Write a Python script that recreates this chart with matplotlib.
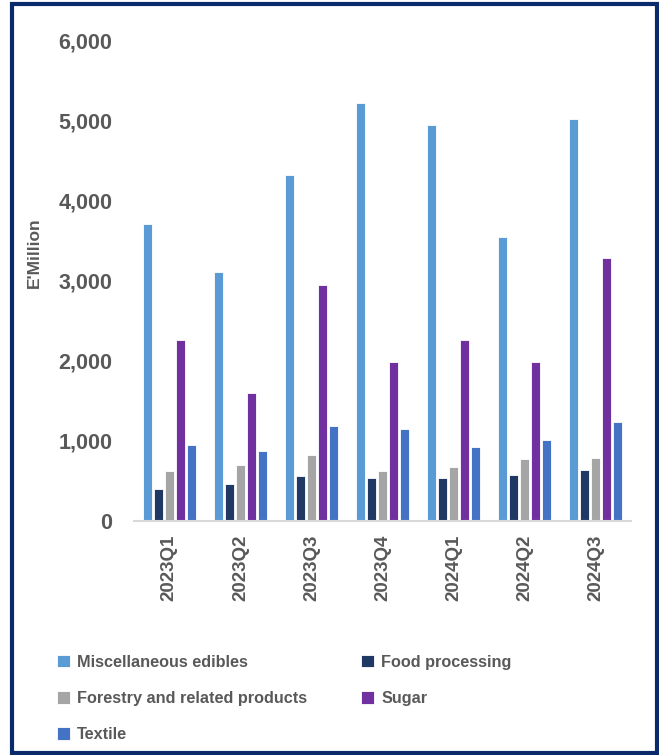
import numpy as np
from matplotlib import pyplot as plt
import matplotlib as mpl
from matplotlib.patches import Rectangle

plt.rcParams['font.family'] = ['Liberation Sans', 'DejaVu Sans']
plt.rcParams['font.weight'] = 'bold'

#trimestres
quarters = ['2023Q1', '2023Q2', '2023Q3', '2023Q4', '2024Q1', '2024Q2', '2024Q3']

#valores por sector (E'Million)
misc_edibles = [3705, 3102, 4312, 5214, 4944, 3539, 5018]
food_processing = [399, 461, 561, 540, 532, 570, 636]
forestry = [624, 695, 827, 624, 673, 777, 786]
sugar = [2262, 1601, 2940, 1979, 2258, 1987, 3280]
textile = [952, 873, 1185, 1152, 923, 1010, 1239]

series = [
    ('Miscellaneous edibles', misc_edibles, '#5B9BD5'),
    ('Food processing', food_processing, '#203864'),
    ('Forestry and related products', forestry, '#A5A5A5'),
    ('Sugar', sugar, '#7030A0'),
    ('Textile', textile, '#4472C4'),
]

gray = '#595959'
px = 1/100
fig = plt.figure(figsize=(659*px, 755*px), dpi=100)
ax = fig.add_axes([0.203, 0.310, 0.755, 0.637])

x = np.arange(len(quarters))
w = 0.127
step = 0.155
bars = {}
for i, (name, vals, col) in enumerate(series):
    bars[name] = ax.bar(x + (i - 2)*step, vals, width=w, color=col,
            edgecolor='white', linewidth=0.6, label=name)

ax.set_xlim(-0.5, len(quarters) - 0.5)
ax.set_ylim(0, 6000)
ax.set_yticks(np.arange(0, 6001, 1000))
ax.yaxis.set_major_formatter(mpl.ticker.FuncFormatter(lambda v, p: '{:,.0f}'.format(v)))
ax.set_xticks(x)
ax.set_xticklabels(quarters, rotation=90)
ax.tick_params(axis='y', length=0, pad=15.5, labelsize=15.5, labelcolor=gray)
ax.tick_params(axis='x', length=0, pad=10, labelsize=13.5, labelcolor=gray)
for s in ['top', 'right', 'left']:
    ax.spines[s].set_visible(False)
ax.spines['bottom'].set_color('#D9D9D9')
ax.spines['bottom'].set_linewidth(1.5)
ax.set_ylabel("E'Million", fontsize=12.5, color=gray, fontweight='bold')
ax.yaxis.set_label_coords(-0.184, 0.557)

order = ['Miscellaneous edibles', 'Forestry and related products', 'Textile',
         'Food processing', 'Sugar']
fig.legend([bars[n] for n in order], order, ncol=2, frameon=False,
        loc='upper left', bbox_to_anchor=(0.064, 0.152),
        fontsize=11.7, labelcolor=gray, handlelength=0.8, handleheight=0.8,
        handletextpad=0.45, columnspacing=3.3, labelspacing=1.3)

#marco
fig.patches.append(Rectangle((12/659, 1 - 753/755), 645/659, 749/755,
        transform=fig.transFigure, fill=False, edgecolor='#0B2A6B', linewidth=3))

fig.savefig('out.png', dpi=100)
